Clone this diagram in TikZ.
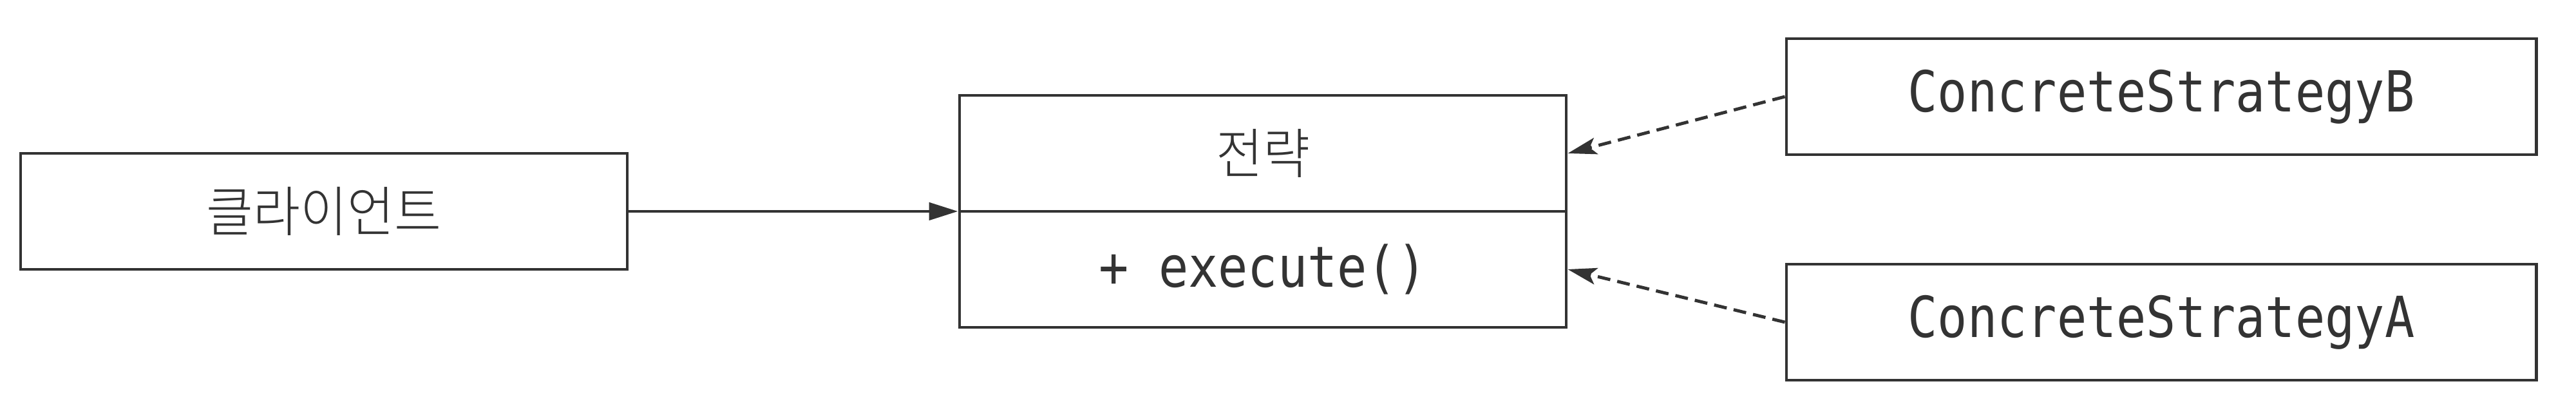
\documentclass[tikz,border=0pt]{standalone}
\usepackage{fontspec}
\usetikzlibrary{arrows.meta}
\newfontfamily\krfont[FakeStretch=0.94]{Noto Sans CJK KR Light}
\setmonofont[FakeStretch=0.875]{DejaVu Sans Mono}

\begin{document}
\begin{tikzpicture}
	\definecolor{linegray}{RGB}{51, 51, 51}
	\tikzset{
		box/.style={draw=linegray, line width=1.4pt, rectangle, text=linegray,
			minimum height=1.80cm, inner sep=0pt, font=\fontsize{24}{28}\selectfont},
		classbox/.style={box, minimum width=9.42cm},
		implbox/.style={box, minimum width=11.64cm, font=\fontsize{25}{30}\selectfont\ttfamily},
		uses/.style={draw=linegray, line width=1.4pt, -{Triangle[length=0.45cm,width=0.27cm]}},
		realizes/.style={draw=linegray, line width=1.4pt, dash pattern=on 0.2cm off 0.11cm,
			-{Stealth[length=0.45cm,width=0.26cm,inset=0.1cm]}}
	}
	\useasboundingbox (0,0) rectangle (40,-6.13);

	\node[classbox] (client) at (5.03,-3.28) {\krfont 클라이언트};
	\node[classbox] (strategy) at (19.61,-2.38) {\krfont 전략};
	\node[classbox, font=\fontsize{25}{30}\selectfont\ttfamily] (execute) at (19.61,-4.18) {+ execute()};

	\node[implbox] (concreteB) at (33.56,-1.50) {ConcreteStrategyB};
	\node[implbox] (concreteA) at (33.56,-5.00) {ConcreteStrategyA};

	\draw[uses] (client.east) -- (client.east -| strategy.west);
	\draw[realizes] (concreteB.west) -- (strategy.east);
	\draw[realizes] (concreteA.west) -- (execute.east);
\end{tikzpicture}
\end{document}
